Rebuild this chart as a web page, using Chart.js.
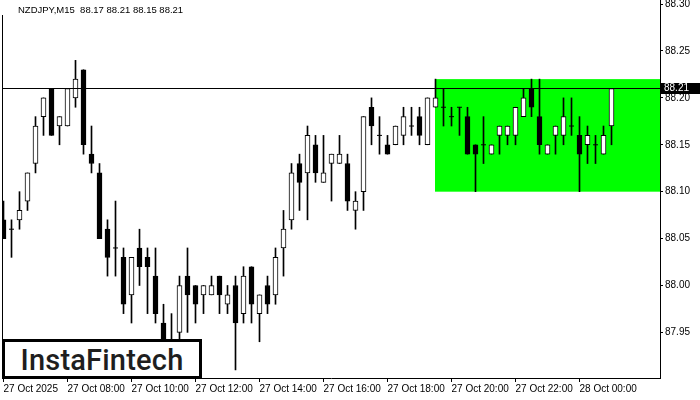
<!DOCTYPE html>
<html>
<head>
<meta charset="utf-8">
<script src="https://cdn.jsdelivr.net/npm/chart.js@4.4.1/dist/chart.umd.min.js"></script>
<style>
html,body{margin:0;padding:0;background:#fff;}
#wrap{position:relative;width:700px;height:400px;overflow:hidden;background:#fff;}
#c{display:block;}
#title{position:absolute;left:18px;top:4px;font:9.5px "Liberation Sans",Arial,sans-serif;color:#000;white-space:pre;line-height:12px;}
#logo{position:absolute;left:2px;top:339px;width:200px;height:40px;box-sizing:border-box;border:3px solid #000;background:#fff;
  font:500 29px Roboto,"Open Sans",sans-serif;color:#1e1e1e;text-align:center;line-height:36px;letter-spacing:0.2px;}
</style>
</head>
<body>
<div id="wrap">
<canvas id="c" width="700" height="400"></canvas>
<div id="title">NZDJPY,M15  88.17 88.21 88.15 88.21</div>
<div id="logo">InstaFintech</div>
</div>
<script>
// ---- data (M15 bars starting 27 Oct 06:00) ----
const opens  = [88.07,88.06,88.07,88.09,88.13,88.18,88.21,88.17,88.17,88.20,88.23,88.14,88.12,88.06,88.04,88.03,87.99,88.04,88.03,88.01,87.96,87.93,87.95,88.01,88.00,87.99,87.99,88.01,87.98,88.00,87.97,88.02,87.97,88.00,87.99,88.04,88.07,88.13,88.12,88.15,88.11,88.13,88.13,88.13,88.08,88.10,88.19,88.16,88.15,88.15,88.16,88.17,88.18,88.15,88.19,88.19,88.18,88.19,88.18,88.15,88.15,88.14,88.16,88.16,88.16,88.18,88.21,88.18,88.14,88.16,88.16,88.17,88.16,88.15,88.15,88.14,88.17];
const highs  = [88.09,88.07,88.10,88.12,88.18,88.20,88.21,88.18,88.21,88.24,88.23,88.17,88.13,88.07,88.09,88.04,88.03,88.06,88.04,88.04,87.98,87.97,88.01,88.04,88.00,88.00,88.01,88.01,88.00,88.01,88.02,88.02,87.99,88.01,88.04,88.08,88.13,88.14,88.17,88.16,88.16,88.14,88.16,88.14,88.10,88.18,88.20,88.18,88.16,88.17,88.19,88.19,88.19,88.20,88.22,88.21,88.19,88.19,88.19,88.15,88.18,88.15,88.17,88.17,88.19,88.21,88.22,88.22,88.15,88.17,88.20,88.20,88.18,88.17,88.16,88.17,88.21];
const lows   = [88.05,88.03,88.06,88.08,88.12,88.16,88.16,88.15,88.17,88.19,88.14,88.12,88.05,88.01,88.01,87.97,87.96,88.00,87.97,87.96,87.92,87.92,87.94,87.95,87.96,87.97,87.99,87.97,87.97,87.91,87.96,87.96,87.94,87.97,87.98,88.01,88.06,88.08,88.07,88.11,88.11,88.09,88.13,88.08,88.06,88.08,88.15,88.14,88.14,88.15,88.15,88.16,88.15,88.15,88.19,88.17,88.17,88.16,88.14,88.10,88.13,88.14,88.14,88.15,88.15,88.18,88.18,88.14,88.14,88.14,88.15,88.16,88.10,88.13,88.13,88.14,88.15];
const closes = [88.05,88.06,88.08,88.12,88.17,88.20,88.16,88.18,88.21,88.22,88.15,88.13,88.05,88.03,88.04,87.98,88.03,88.02,88.02,87.97,87.93,87.94,88.00,87.99,87.98,88.00,88.00,87.99,87.99,87.96,88.01,87.98,87.99,87.98,88.03,88.06,88.12,88.11,88.16,88.12,88.12,88.14,88.14,88.09,88.09,88.18,88.17,88.16,88.14,88.17,88.18,88.17,88.16,88.20,88.20,88.19,88.18,88.19,88.14,88.14,88.15,88.15,88.17,88.17,88.19,88.20,88.19,88.15,88.15,88.17,88.18,88.17,88.14,88.16,88.15,88.16,88.21];

const tickBars   = [0,8,16,24,32,40,48,56,64,72];
const tickLabels = ['27 Oct 2025','27 Oct 08:00','27 Oct 10:00','27 Oct 12:00','27 Oct 14:00','27 Oct 16:00','27 Oct 18:00','27 Oct 20:00','27 Oct 22:00','28 Oct 00:00'];
const priceTicks = [87.95,88.00,88.05,88.10,88.15,88.20,88.25,88.30];

const currentPrice = 88.21;
const rectStartBar = 54;
const rectTop = 88.22;
const rectBottom = 88.10;

// ---- datasets ----
const wickData = opens.map((o,i)=>({x:i, y:[lows[i], highs[i]]}));
const bodyData = opens.map((o,i)=> o===closes[i] ? {x:i, y:null} : {x:i, y:[Math.min(o,closes[i]), Math.max(o,closes[i])]});
const bodyFill = opens.map((o,i)=> closes[i] < o ? '#000000' : '#ffffff');
const dojiData = opens.map((o,i)=> ({x:i, y: o===closes[i] ? o : null}));

const FONT = {family:'"Liberation Sans", Arial, sans-serif', size:10};

const overlay = {
  id:'overlay',
  beforeDatasetsDraw(chart){
    const {ctx, chartArea:a, scales:{x,y}} = chart;
    const x0 = Math.floor(x.getPixelForValue(rectStartBar));
    const y0 = y.getPixelForValue(rectTop), y1 = y.getPixelForValue(rectBottom);
    ctx.save();
    ctx.fillStyle = '#00ff00';
    ctx.fillRect(x0, y0, a.right - x0, y1 - y0);
    ctx.restore();
  },
  afterDatasetsDraw(chart){
    const {ctx, chartArea:a, scales:{y}} = chart;
    const py = Math.floor(y.getPixelForValue(currentPrice)) + 0.5;
    ctx.save();
    ctx.strokeStyle = '#000'; ctx.lineWidth = 1;
    ctx.beginPath(); ctx.moveTo(a.left, py); ctx.lineTo(a.right, py); ctx.stroke();
    ctx.beginPath(); ctx.moveTo(a.left + 0.5, 15); ctx.lineTo(a.left + 0.5, a.bottom); ctx.stroke();
    ctx.restore();
  },
  afterDraw(chart){
    const {ctx, chartArea:a, scales:{y}} = chart;
    const py = Math.floor(y.getPixelForValue(currentPrice)) + 0.5;
    ctx.save();
    ctx.fillStyle = '#000';
    ctx.fillRect(a.right + 1, py - 5.5, 700 - a.right - 1, 11);
    ctx.fillStyle = '#fff';
    ctx.font = '10px "Liberation Sans", Arial, sans-serif';
    ctx.textBaseline = 'middle'; ctx.textAlign = 'left';
    ctx.fillText(currentPrice.toFixed(2), a.right + 4, py);
    ctx.restore();
  }
};

new Chart(document.getElementById('c'), {
  type:'bar',
  data:{datasets:[
    {type:'bar', data:wickData, backgroundColor:'#000', borderWidth:0, barThickness:1, grouped:false, order:3},
    {type:'bar', data:bodyData, backgroundColor:bodyFill, borderColor:'#000', borderWidth:1, borderSkipped:false, barThickness:5, grouped:false, order:2},
    {type:'line', data:dojiData, showLine:false, pointStyle:'line', pointRadius:2.5, borderColor:'#000', borderWidth:1, order:1}
  ]},
  options:{
    responsive:false, animation:false, events:[],
    layout:{autoPadding:false, padding:{left:2, top:0, right:0, bottom:0}},
    plugins:{legend:{display:false}, tooltip:{enabled:false}},
    scales:{
      x:{type:'linear', min:-0.1875, max:82.0625, offset:false,
        grid:{display:true, offset:false, drawOnChartArea:false, drawTicks:true, tickLength:4, color:'#000'},
        border:{display:true, color:'#000', width:1},
        ticks:{autoSkip:false, maxRotation:0, minRotation:0, align:'start', padding:1, font:FONT, color:'#000',
          callback:(v,i)=>tickLabels[i]},
        afterBuildTicks:s=>{ s.ticks = tickBars.map(v=>({value:v})); },
        afterFit:s=>{ s.height = 22; s.paddingLeft = 0; s.paddingRight = 0; }
      },
      y:{type:'linear', position:'right', min:87.90137, max:88.30435, beginAtZero:false,
        grid:{display:true, drawOnChartArea:false, drawTicks:true, tickLength:3, color:'#000'},
        border:{display:true, color:'#000', width:1},
        ticks:{padding:2, font:FONT, color:'#000', callback:v=>Number(v).toFixed(2)},
        afterBuildTicks:s=>{ s.ticks = priceTicks.map(v=>({value:v})); },
        afterFit:s=>{ s.width = 40; s.paddingTop = 0; s.paddingBottom = 0; }
      }
    }
  },
  plugins:[overlay]
});
</script>
</body>
</html>
